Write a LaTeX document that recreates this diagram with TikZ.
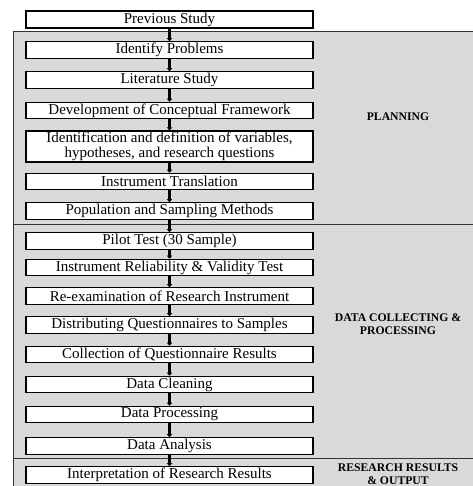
\documentclass[tikz,border=0pt]{standalone}
\usepackage{fontspec}
\setmainfont{Liberation Serif}
\usetikzlibrary{arrows.meta}
\begin{document}
\begin{tikzpicture}[x=1pt,y=-1pt,
  stepbox/.style={draw=black, line width=1.3pt, fill=white, minimum width=287pt, inner sep=0pt,
    font=\fontsize{15}{14.5}\selectfont, align=center},
  flow/.style={line width=2.8pt, -{Triangle[length=3pt,width=5.5pt]}},
  phase/.style={font=\bfseries\fontsize{11.7}{13}\selectfont, align=center},
  panel/.style={fill=black!15},
  border/.style={draw=black!80, line width=1pt}]
\useasboundingbox (0,0) rectangle (472,486);
\fill[panel] (13,32) rectangle (480,495);
\draw[border] (480,32) -- (13,32) -- (13,495);
\draw[border] (13,224) -- (480,224);
\draw[border] (13,458) -- (480,458);

\node[stepbox, minimum height=17pt] (b1) at (169.5,19.5) {Previous Study};
\node[stepbox, minimum height=16.5pt] (b2) at (169.5,50) {Identify Problems};
\node[stepbox, minimum height=16.5pt] (b3) at (169.5,80) {Literature Study};
\node[stepbox, minimum height=16.5pt] (b4) at (169.5,110.5) {Development of Conceptual Framework};
\node[stepbox, minimum height=31pt] (b5) at (169.5,146.5) {Identification and definition of variables,\\hypotheses, and research questions};
\node[stepbox, minimum height=16.5pt] (b6) at (169.5,181.5) {Instrument Translation};
\node[stepbox, minimum height=16.5pt] (b7) at (169.5,211) {Population and Sampling Methods};
\node[stepbox, minimum height=16.5pt] (b8) at (169.5,241) {Pilot Test (30 Sample)};
\node[stepbox, minimum height=16.5pt] (b9) at (169.5,267.5) {Instrument Reliability \& Validity Test};
\node[stepbox, minimum height=16.5pt] (b10) at (169.5,296) {Re-examination of Research Instrument};
\node[stepbox, minimum height=16.5pt] (b11) at (169.5,325) {Distributing Questionnaires to Samples};
\node[stepbox, minimum height=16.5pt] (b12) at (169.5,354.5) {Collection of Questionnaire Results};
\node[stepbox, minimum height=16.5pt] (b13) at (169.5,384.5) {Data Cleaning};
\node[stepbox, minimum height=16.5pt] (b14) at (169.5,414.5) {Data Processing};
\node[stepbox, minimum height=16.5pt] (b15) at (169.5,446) {Data Analysis};
\node[stepbox, minimum height=16.5pt] (b16) at (169.5,475) {Interpretation of Research Results};

\foreach \a/\b in {b1/b2,b2/b3,b3/b4,b4/b5,b5/b6,b6/b7,b7/b8,b8/b9,b9/b10,b10/b11,b11/b12,b12/b13,b13/b14,b14/b15,b15/b16}
  \draw[flow] (\a) -- (\b);

\node[phase] (p1) at (398,117) {PLANNING};
\node[phase] (p2) at (398,324.5) {DATA COLLECTING \&\\PROCESSING};
\node[phase] (p3) at (398,474.5) {RESEARCH RESULTS\\\& OUTPUT};
\end{tikzpicture}
\end{document}
